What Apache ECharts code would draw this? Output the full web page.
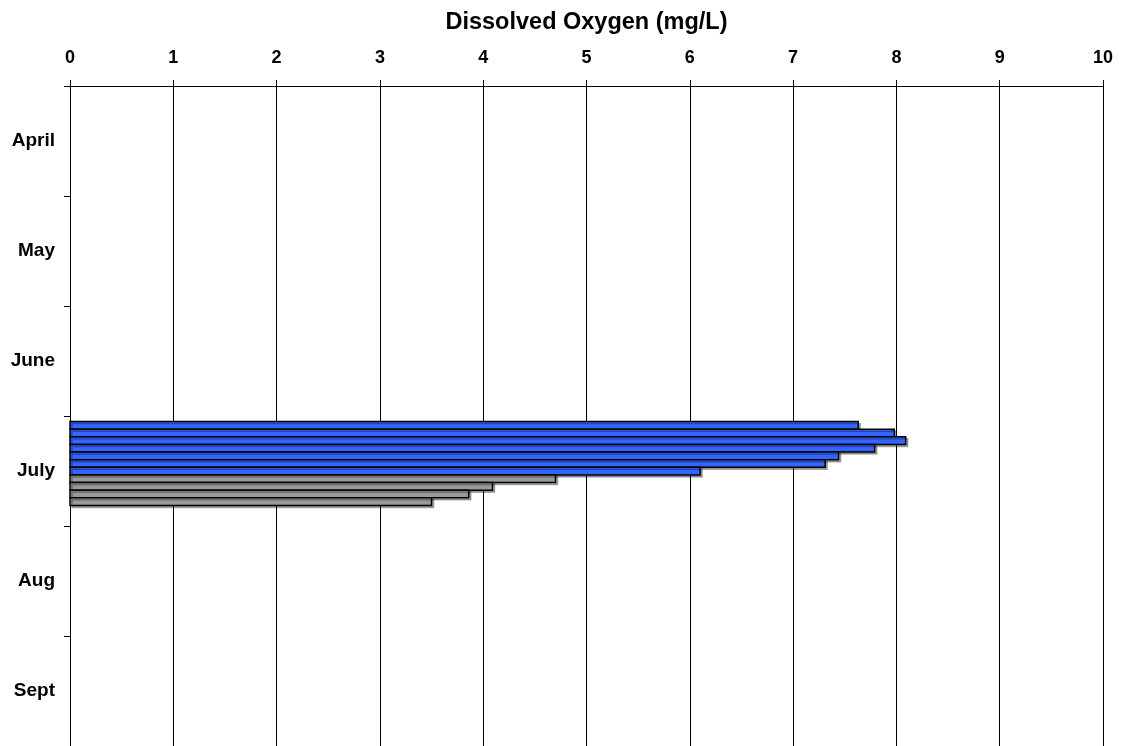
<!DOCTYPE html>
<html>
<head>
<meta charset="utf-8">
<script src="https://cdn.jsdelivr.net/npm/echarts@6/dist/echarts.min.js"></script>
<style>
html,body{margin:0;padding:0;background:#fff;}
#chart{width:1123px;height:746px;}
</style>
</head>
<body>
<div id="chart"></div>
<script>
// ---- data ----
const months = ['April', 'May', 'June', 'July', 'Aug', 'Sept'];
const xTicks = [0, 1, 2, 3, 4, 5, 6, 7, 8, 9, 10];
const blueValues = [7.63, 7.98, 8.09, 7.79, 7.44, 7.31, 6.10];
const grayValues = [4.70, 4.09, 3.86, 3.50];
const barMonth = 'July';

// ---- build ----
const monthIdx = months.indexOf(barMonth);
const slotStart = 0.051, slotH = 0.0693;
const all = blueValues.map(v => ({ v, c: 0 })).concat(grayValues.map(v => ({ v, c: 1 })));
const data = all.map((d, i) => {
  const y0 = monthIdx + slotStart + slotH * i;
  return [d.v, y0, y0 + slotH, d.c];
});
const colors = ['#3366FF', '#999999'];
const font = 'Liberation Sans, Arial, sans-serif';

const chart = echarts.init(document.getElementById('chart'));
chart.setOption({
  animation: false,
  backgroundColor: '#fff',
  grid: { left: 70, right: 20, top: 86, height: 662 },
  xAxis: {
    type: 'value', position: 'top', min: 0, max: 10, interval: 1,
    name: 'Dissolved Oxygen (mg/L)', nameLocation: 'middle', nameGap: 51,
    nameTextStyle: { fontFamily: font, fontWeight: 'bold', fontSize: 23.5, color: '#000' },
    axisLine: { show: true, lineStyle: { color: '#000', width: 1 } },
    axisTick: { show: true, inside: false, length: 6, lineStyle: { color: '#000' } },
    axisLabel: { fontFamily: font, fontWeight: 'bold', fontSize: 18, color: '#000', margin: 19,
      formatter: v => xTicks.includes(v) ? String(v) : '' },
    splitLine: { show: true, lineStyle: { color: '#000', width: 1 } }
  },
  yAxis: [{
    type: 'category', data: months, inverse: true, position: 'left',
    axisLine: { show: true, lineStyle: { color: '#000', width: 1 } },
    axisTick: { show: true, length: 6, lineStyle: { color: '#000' } },
    axisLabel: { fontFamily: font, fontWeight: 'bold', fontSize: 19, color: '#000', margin: 15 },
    splitLine: { show: false }
  }, {
    type: 'value', min: 0, max: months.length, inverse: true, show: false,
    splitLine: { show: false }
  }],
  series: [{
    type: 'custom', xAxisIndex: 0, yAxisIndex: 1,
    data: data,
    renderItem: function (params, api) {
      const p0 = api.coord([0, api.value(1)]);
      const p1 = api.coord([api.value(0), api.value(2)]);
      return {
        type: 'rect',
        shape: { x: p0[0], y: p0[1], width: p1[0] - p0[0], height: p1[1] - p0[1] },
        style: {
          fill: colors[api.value(3)], stroke: '#000', lineWidth: 1.5,
          shadowColor: 'rgba(0,0,0,0.3)', shadowOffsetX: 2, shadowOffsetY: 2, shadowBlur: 0
        }
      };
    }
  }]
});
</script>
</body>
</html>
